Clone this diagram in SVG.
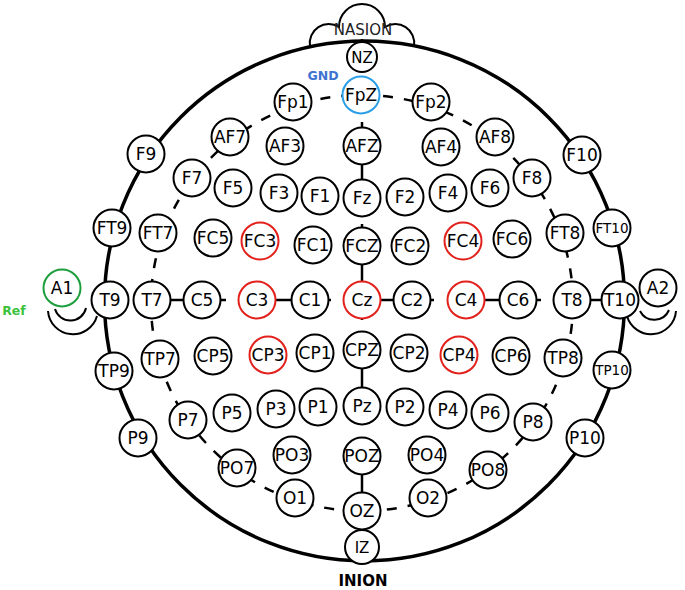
<svg xmlns="http://www.w3.org/2000/svg" width="685" height="590" viewBox="0 0 685 590">
<style>
.e{fill:#fff;stroke:#000;stroke-width:2}
.red{stroke:#e3211c}
.blue{stroke:#2a9fe8}
.green{stroke:#1d9e3c}
text{font-family:"DejaVu Sans","Liberation Sans",sans-serif;text-anchor:middle;fill:#000}
.t{font-size:17px}
.s{font-size:13.5px}
.head{fill:none;stroke:#000;stroke-width:3.5}
.thin{fill:none;stroke:#000;stroke-width:2}
.ring{fill:none;stroke:#000;stroke-width:2.5;stroke-dasharray:10 11}
.seg{stroke:#000;stroke-width:2.5}
</style>
<rect width="685" height="590" fill="#fff"/>
<g id="head">
<path class="thin" d="M310,46 A19,19 0 0 1 339,27 A23,23 0 0 1 385,27 A19,19 0 0 1 414,46"/>
<circle class="head" cx="364.5" cy="301" r="260"/>
<path class="thin" d="M55,309 A16,16 0 0 0 86,308"/>
<path class="thin" d="M48,311 A25,25 0 0 0 97,316"/>
<path class="thin" d="M640,311 A16,16 0 0 0 669,310"/>
<path class="thin" d="M627,316 A25,25 0 0 0 676,311"/>
<text x="363" y="35" style="font-size:15px;fill:#222">NASION</text>
<text x="363" y="586" style="font-size:15px;font-weight:bold">INION</text>
<text x="323" y="80" style="font-size:12.5px;font-weight:bold;fill:#3d73d1">GND</text>
<text x="14" y="315" style="font-size:12.5px;font-weight:bold;fill:#3cc23c">Ref</text>
</g>
<g id="connectors">
<ellipse class="ring" cx="362" cy="303" rx="211" ry="208"/>
<line class="seg" x1="362" y1="39" x2="362" y2="44"/>
<line class="seg" x1="362" y1="122" x2="362" y2="180"/>
<line class="seg" x1="362" y1="224" x2="362" y2="320"/>
<line class="seg" x1="362" y1="365" x2="362" y2="390"/>
<line class="seg" x1="362" y1="470" x2="362" y2="495"/>
<line class="seg" x1="150" y1="300" x2="226" y2="300"/>
<line class="seg" x1="265" y1="300" x2="331" y2="300"/>
<line class="seg" x1="362" y1="300" x2="434" y2="300"/>
<line class="seg" x1="465" y1="300" x2="541" y2="300"/>
<line class="seg" x1="565" y1="300" x2="615" y2="300"/>
</g>
<g id="NZ"><circle class="e" cx="362" cy="57" r="15"/><text class="t" x="362" y="63" style="font-size:15px">NZ</text></g>
<g id="FpZ"><circle class="e blue" cx="361" cy="95" r="18.5"/><text class="t" x="361" y="101">FpZ</text></g>
<g id="Fp1"><circle class="e" cx="293" cy="102" r="18.5"/><text class="t" x="293" y="108">Fp1</text></g>
<g id="Fp2"><circle class="e" cx="431" cy="102" r="18.5"/><text class="t" x="431" y="108">Fp2</text></g>
<g id="AF7"><circle class="e" cx="230" cy="137" r="18.5"/><text class="t" x="230" y="143">AF7</text></g>
<g id="AF3"><circle class="e" cx="285" cy="146" r="18.5"/><text class="t" x="285" y="152">AF3</text></g>
<g id="AFZ"><circle class="e" cx="362" cy="146" r="18.5"/><text class="t" x="362" y="152">AFZ</text></g>
<g id="AF4"><circle class="e" cx="441" cy="147" r="18.5"/><text class="t" x="441" y="153">AF4</text></g>
<g id="AF8"><circle class="e" cx="495" cy="137" r="18.5"/><text class="t" x="495" y="143">AF8</text></g>
<g id="F9"><circle class="e" cx="146" cy="154" r="18.5"/><text class="t" x="146" y="160">F9</text></g>
<g id="F10"><circle class="e" cx="582" cy="155" r="18.5"/><text class="t" x="582" y="161">F10</text></g>
<g id="F7"><circle class="e" cx="192" cy="178" r="18.5"/><text class="t" x="192" y="184">F7</text></g>
<g id="F5"><circle class="e" cx="233" cy="188" r="18.5"/><text class="t" x="233" y="194">F5</text></g>
<g id="F3"><circle class="e" cx="279" cy="193" r="18.5"/><text class="t" x="279" y="199">F3</text></g>
<g id="F1"><circle class="e" cx="320" cy="196" r="18.5"/><text class="t" x="320" y="202">F1</text></g>
<g id="Fz"><circle class="e" cx="362" cy="198" r="18.5"/><text class="t" x="362" y="204">Fz</text></g>
<g id="F2"><circle class="e" cx="405" cy="197" r="18.5"/><text class="t" x="405" y="203">F2</text></g>
<g id="F4"><circle class="e" cx="448" cy="193" r="18.5"/><text class="t" x="448" y="199">F4</text></g>
<g id="F6"><circle class="e" cx="490" cy="188" r="18.5"/><text class="t" x="490" y="194">F6</text></g>
<g id="F8"><circle class="e" cx="532" cy="178" r="18.5"/><text class="t" x="532" y="184">F8</text></g>
<g id="FT9"><circle class="e" cx="112" cy="228" r="18.5"/><text class="t" x="112" y="234">FT9</text></g>
<g id="FT7"><circle class="e" cx="158" cy="233" r="18.5"/><text class="t" x="158" y="239">FT7</text></g>
<g id="FC5"><circle class="e" cx="213" cy="238" r="18.5"/><text class="t" x="213" y="244">FC5</text></g>
<g id="FC3"><circle class="e red" cx="260" cy="241" r="18.5"/><text class="t" x="260" y="247">FC3</text></g>
<g id="FC1"><circle class="e" cx="313" cy="245" r="18.5"/><text class="t" x="313" y="251">FC1</text></g>
<g id="FCZ"><circle class="e" cx="362" cy="246" r="18.5"/><text class="t" x="362" y="252">FCZ</text></g>
<g id="FC2"><circle class="e" cx="410" cy="246" r="18.5"/><text class="t" x="410" y="252">FC2</text></g>
<g id="FC4"><circle class="e red" cx="463" cy="241" r="18.5"/><text class="t" x="463" y="247">FC4</text></g>
<g id="FC6"><circle class="e" cx="512" cy="239" r="18.5"/><text class="t" x="512" y="245">FC6</text></g>
<g id="FT8"><circle class="e" cx="565" cy="233" r="18.5"/><text class="t" x="565" y="239">FT8</text></g>
<g id="FT10"><circle class="e" cx="612" cy="228" r="18.5"/><text class="s" x="612" y="233">FT10</text></g>
<g id="A1"><circle class="e green" cx="62" cy="288" r="18.5"/><text class="t" x="62" y="294">A1</text></g>
<g id="T9"><circle class="e" cx="110" cy="300" r="18.5"/><text class="t" x="110" y="306">T9</text></g>
<g id="T7"><circle class="e" cx="152" cy="300" r="18.5"/><text class="t" x="152" y="306">T7</text></g>
<g id="C5"><circle class="e" cx="202" cy="300" r="18.5"/><text class="t" x="202" y="306">C5</text></g>
<g id="C3"><circle class="e red" cx="257" cy="300" r="18.5"/><text class="t" x="257" y="306">C3</text></g>
<g id="C1"><circle class="e" cx="310" cy="300" r="18.5"/><text class="t" x="310" y="306">C1</text></g>
<g id="Cz"><circle class="e red" cx="362" cy="300" r="18.5"/><text class="t" x="362" y="306">Cz</text></g>
<g id="C2"><circle class="e" cx="412" cy="300" r="18.5"/><text class="t" x="412" y="306">C2</text></g>
<g id="C4"><circle class="e red" cx="466" cy="300" r="18.5"/><text class="t" x="466" y="306">C4</text></g>
<g id="C6"><circle class="e" cx="518" cy="300" r="18.5"/><text class="t" x="518" y="306">C6</text></g>
<g id="T8"><circle class="e" cx="572" cy="300" r="18.5"/><text class="t" x="572" y="306">T8</text></g>
<g id="T10"><circle class="e" cx="620" cy="300" r="18.5"/><text class="t" x="620" y="306">T10</text></g>
<g id="A2"><circle class="e" cx="658" cy="288" r="18.5"/><text class="t" x="658" y="294">A2</text></g>
<g id="TP9"><circle class="e" cx="114" cy="371" r="18.5"/><text class="t" x="114" y="377">TP9</text></g>
<g id="TP7"><circle class="e" cx="160" cy="359" r="18.5"/><text class="t" x="160" y="365">TP7</text></g>
<g id="CP5"><circle class="e" cx="213" cy="356" r="18.5"/><text class="t" x="213" y="362">CP5</text></g>
<g id="CP3"><circle class="e red" cx="268" cy="355" r="18.5"/><text class="t" x="268" y="361">CP3</text></g>
<g id="CP1"><circle class="e" cx="315" cy="353" r="18.5"/><text class="t" x="315" y="359">CP1</text></g>
<g id="CPZ"><circle class="e" cx="362" cy="350" r="18.5"/><text class="t" x="362" y="356">CPZ</text></g>
<g id="CP2"><circle class="e" cx="409" cy="353" r="18.5"/><text class="t" x="409" y="359">CP2</text></g>
<g id="CP4"><circle class="e red" cx="459" cy="355" r="18.5"/><text class="t" x="459" y="361">CP4</text></g>
<g id="CP6"><circle class="e" cx="511" cy="356" r="18.5"/><text class="t" x="511" y="362">CP6</text></g>
<g id="TP8"><circle class="e" cx="563" cy="358" r="18.5"/><text class="t" x="563" y="364">TP8</text></g>
<g id="TP10"><circle class="e" cx="612" cy="370" r="18.5"/><text class="s" x="612" y="375">TP10</text></g>
<g id="P9"><circle class="e" cx="138" cy="438" r="18.5"/><text class="t" x="138" y="444">P9</text></g>
<g id="P7"><circle class="e" cx="188" cy="420" r="18.5"/><text class="t" x="188" y="426">P7</text></g>
<g id="P5"><circle class="e" cx="232" cy="413" r="18.5"/><text class="t" x="232" y="419">P5</text></g>
<g id="P3"><circle class="e" cx="276" cy="409" r="18.5"/><text class="t" x="276" y="415">P3</text></g>
<g id="P1"><circle class="e" cx="318" cy="407" r="18.5"/><text class="t" x="318" y="413">P1</text></g>
<g id="Pz"><circle class="e" cx="362" cy="406" r="18.5"/><text class="t" x="362" y="412">Pz</text></g>
<g id="P2"><circle class="e" cx="405" cy="407" r="18.5"/><text class="t" x="405" y="413">P2</text></g>
<g id="P4"><circle class="e" cx="448" cy="410" r="18.5"/><text class="t" x="448" y="416">P4</text></g>
<g id="P6"><circle class="e" cx="490" cy="413" r="18.5"/><text class="t" x="490" y="419">P6</text></g>
<g id="P8"><circle class="e" cx="533" cy="422" r="18.5"/><text class="t" x="533" y="428">P8</text></g>
<g id="P10"><circle class="e" cx="585" cy="438" r="18.5"/><text class="t" x="585" y="444">P10</text></g>
<g id="PO7"><circle class="e" cx="237" cy="468" r="18.5"/><text class="t" x="237" y="474">PO7</text></g>
<g id="PO3"><circle class="e" cx="292" cy="455" r="18.5"/><text class="t" x="292" y="461">PO3</text></g>
<g id="POZ"><circle class="e" cx="362" cy="456" r="18.5"/><text class="t" x="362" y="462">POZ</text></g>
<g id="PO4"><circle class="e" cx="427" cy="455" r="18.5"/><text class="t" x="427" y="461">PO4</text></g>
<g id="PO8"><circle class="e" cx="488" cy="470" r="18.5"/><text class="t" x="488" y="476">PO8</text></g>
<g id="O1"><circle class="e" cx="295" cy="498" r="18.5"/><text class="t" x="295" y="504">O1</text></g>
<g id="OZ"><circle class="e" cx="362" cy="511" r="18.5"/><text class="t" x="362" y="517">OZ</text></g>
<g id="O2"><circle class="e" cx="428" cy="498" r="18.5"/><text class="t" x="428" y="504">O2</text></g>
<g id="IZ"><circle class="e" cx="362" cy="547" r="17"/><text class="t" x="362" y="553" style="font-size:15px">IZ</text></g>
</svg>
